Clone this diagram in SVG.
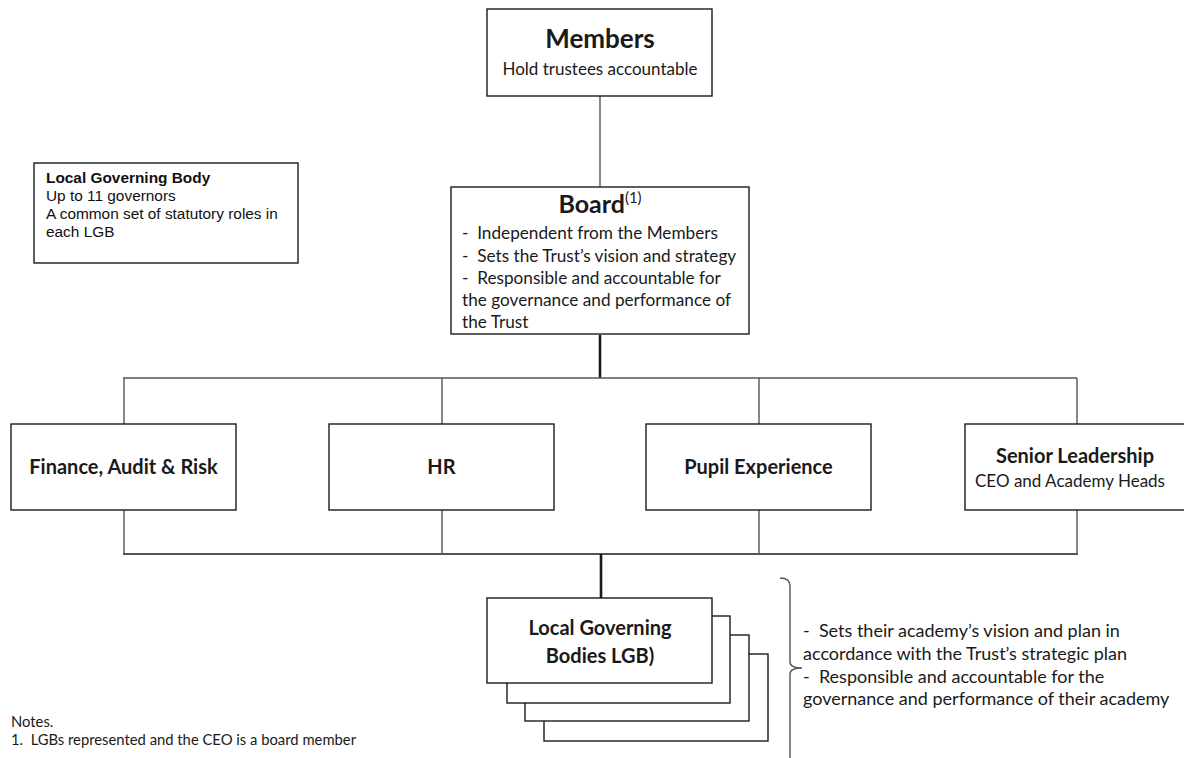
<svg xmlns="http://www.w3.org/2000/svg" width="1184" height="758" viewBox="0 0 1184 758">
<style>
.box{fill:#fff;stroke:#1a1a1a;stroke-width:1.4}
.ln{fill:none;stroke:#555;stroke-width:1.4}
.thick{fill:none;stroke:#1a1a1a;stroke-width:2.6}
.t{font-family:Lato,"Liberation Sans",sans-serif;fill:#1a1a1a}
.b{font-weight:bold}
.c{text-anchor:middle}
.lbl{font-family:Lato,"Liberation Sans",sans-serif;fill:#1a1a1a;font-weight:bold;font-size:20px;text-anchor:middle}
.a{font-family:"Liberation Sans",Arial,sans-serif;fill:#111;font-size:15.4px}
</style>
<rect width="1184" height="758" fill="#fff"/>
<g id="connectors">
<line class="ln" x1="600" y1="96" x2="600" y2="187"/>
<line class="thick" x1="600" y1="335" x2="600" y2="378"/>
<line class="ln" x1="123" y1="378" x2="1077" y2="378"/>
<line class="ln" x1="124" y1="378" x2="124" y2="424"/>
<line class="ln" x1="442" y1="378" x2="442" y2="424"/>
<line class="ln" x1="759" y1="378" x2="759" y2="424"/>
<line class="ln" x1="1077" y1="378" x2="1077" y2="424"/>
<line class="ln" x1="124" y1="510" x2="124" y2="554"/>
<line class="ln" x1="442" y1="510" x2="442" y2="554"/>
<line class="ln" x1="759" y1="510" x2="759" y2="554"/>
<line class="ln" x1="1077" y1="510" x2="1077" y2="554"/>
<line class="ln" x1="123" y1="554" x2="1078" y2="554" style="stroke-width:2"/>
<line class="thick" x1="601" y1="554" x2="601" y2="598"/>
</g>
<g id="members">
<rect class="box" x="487" y="9" width="225" height="87"/>
<text class="t b c" x="600" y="48" font-size="26">Members</text>
<text class="t c" x="600" y="75" font-size="17">Hold trustees accountable</text>
</g>
<g id="board">
<rect class="box" x="451" y="187" width="298" height="147"/>
<text class="t c" x="600" y="213" font-size="25" font-weight="bold">Board<tspan font-weight="normal" font-size="15" dy="-10">(1)</tspan></text>
<text class="t" font-size="17.2">
<tspan x="462" y="239">-&#160; Independent from the Members</tspan>
<tspan x="462" y="262">-&#160; Sets the Trust’s vision and strategy</tspan>
<tspan x="462" y="284">-&#160; Responsible and accountable for</tspan>
<tspan x="462" y="306">the governance and performance of</tspan>
<tspan x="462" y="328">the Trust</tspan>
</text>
</g>
<g id="lgb-key">
<rect class="box" x="34" y="163" width="264" height="100"/>
<text class="a" font-weight="bold" x="46" y="183">Local Governing Body</text>
<text class="a" x="46" y="201">Up to 11 governors</text>
<text class="a" x="46" y="219">A common set of statutory roles in</text>
<text class="a" x="46" y="237">each LGB</text>
</g>
<g id="finance">
<rect class="box" x="11" y="424" width="225" height="86"/>
<text class="lbl" x="123.5" y="474">Finance, Audit &amp; Risk</text>
</g>
<g id="hr">
<rect class="box" x="329" y="424" width="225" height="86"/>
<text class="lbl" x="441.5" y="474">HR</text>
</g>
<g id="pupil">
<rect class="box" x="646" y="424" width="225" height="86"/>
<text class="lbl" x="758.5" y="474">Pupil Experience</text>
</g>
<g id="senior">
<rect class="box" x="965" y="424" width="225" height="86"/>
<text class="lbl" x="1075" y="463">Senior Leadership</text>
<text class="t c" x="1070" y="487" font-size="17">CEO and Academy Heads</text>
</g>
<g id="lgb-stack">
<rect class="box" x="544" y="654" width="224" height="87"/>
<rect class="box" x="525" y="635" width="224" height="86"/>
<rect class="box" x="507" y="616" width="223" height="87"/>
<rect class="box" x="487" y="598" width="225" height="85"/>
<text class="lbl" x="600" y="635">Local Governing</text>
<text class="lbl" x="600" y="663">Bodies LGB)</text>
</g>
<g id="lgb-role">
<path class="ln" d="M780,578 Q790,578 790,586 L790,662 Q790,668 802,668 Q790,668 790,674 L790,760"/>
<text class="t" font-size="18">
<tspan x="803" y="637">-&#160; Sets their academy’s vision and plan in</tspan>
<tspan x="803" y="660">accordance with the Trust’s strategic plan</tspan>
<tspan x="803" y="683">-&#160; Responsible and accountable for the</tspan>
<tspan x="803" y="705">governance and performance of their academy</tspan>
</text>
</g>
<g id="notes">
<text class="t" font-size="14.8">
<tspan x="11" y="727">Notes.</tspan>
<tspan x="11" y="745">1.&#160; LGBs represented and the CEO is a board member</tspan>
</text>
</g>
</svg>
